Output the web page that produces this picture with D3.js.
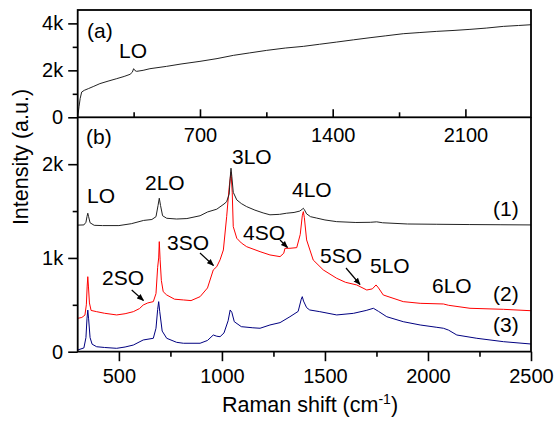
<!DOCTYPE html>
<html>
<head>
<meta charset="utf-8">
<script src="https://cdn.jsdelivr.net/npm/d3@7"></script>
<style>
  html, body { margin: 0; padding: 0; background: #fff; }
  svg { display: block; font-family: Arial, "Liberation Sans", sans-serif; }
</style>
</head>
<body>
<svg id="chart" width="558" height="424"></svg>
<script>
// ---------------- DATA ----------------
// Panel (a): raw spectrum on a broad background
const shiftA = [55,62,68,76,90,111,140,172,215,261,300,331,343,350,357,366,400,436,524,600,700,790,876,960,1052,1150,1245,1330,1421,1510,1597,1680,1772,1860,1949,2040,2124,2210,2300,2380,2446];
const intenA = [0,450,800,1077,1150,1220,1320,1434,1540,1646,1740,1830,1920,2070,1990,1957,2000,2070,2170,2270,2383,2500,2638,2740,2851,2950,3021,3110,3205,3300,3390,3470,3560,3610,3660,3700,3745,3800,3872,3910,3943];

// Panel (b): spectrum (1) black
const shift1 = [300,330,340,345,349,353,360,380,420,500,560,620,660,680,690,696,702,712,732,780,830,894,930,975,1010,1023,1035,1040,1044,1048,1055,1072,1094,1120,1160,1200,1233,1280,1314,1350,1378,1390,1395,1400,1411,1430,1460,1500,1557,1650,1720,1751,1780,1900,2043,2200,2350,2500];
const inten1 = [1350,1352,1380,1440,1477,1440,1375,1348,1345,1345,1365,1400,1410,1440,1560,1637,1560,1450,1423,1415,1420,1450,1490,1520,1575,1600,1680,1850,1957,1870,1700,1619,1580,1547,1510,1480,1460,1465,1477,1485,1500,1520,1530,1515,1470,1440,1425,1405,1387,1378,1380,1385,1375,1362,1359,1356,1354,1352];

// spectrum (2) red
const shift2 = [300,320,335,342,346,349,352,357,365,392,430,489,530,570,600,618,640,667,680,688,693,696,700,706,715,732,770,813,850,894,930,958,975,991,1007,1023,1035,1044,1050,1055,1072,1094,1120,1185,1233,1282,1300,1306,1330,1363,1380,1390,1395,1400,1411,1443,1492,1557,1600,1654,1703,1730,1748,1760,1783,1880,1962,2075,2100,2204,2366,2500];
const inten2 = [356,365,390,500,700,800,700,520,440,427,410,392,405,427,460,498,520,534,620,900,1000,1174,980,760,640,605,560,552,545,587,680,872,907,980,1085,1440,1750,1917,1700,1334,1210,1160,1120,1067,1032,1014,1050,1103,1103,1110,1250,1450,1494,1430,1192,978,872,783,740,712,658,670,712,680,605,534,516,509,495,463,452,437];

// spectrum (3) blue
const shift3 = [300,330,340,345,349,353,360,370,392,430,489,530,570,618,667,680,688,693,698,710,732,780,813,894,930,958,975,991,1010,1030,1040,1048,1060,1094,1150,1185,1233,1282,1330,1370,1385,1390,1396,1411,1426,1475,1557,1638,1700,1735,1760,1800,1880,1962,2043,2075,2100,2140,2237,2366,2500];
const inten3 = [18,40,150,350,444,350,150,80,53,45,36,50,71,125,143,250,450,534,430,220,143,100,90,90,120,178,165,160,200,330,445,420,320,267,255,250,285,310,373,430,560,587,540,470,445,427,392,409,440,463,430,373,320,285,260,250,230,178,143,107,82];

// Ticks
const topXMajor = [700, 1400, 2100];
const topXMinor = [350, 1050, 1750];
const topYMajor = [0, 2000, 4000];
const topYMinor = [1000, 3000];
const botXMajor = [500, 1000, 1500, 2000, 2500];
const botXMinor = [750, 1250, 1750, 2250];
const botYMajor = [0, 1000, 2000];
const botYMinor = [500, 1500];
const kLabel = v => v === 0 ? "0" : (v / 1000) + "k";

// Annotations
const peakLabels = [
  {t: "(a)", x: 87, y: 38}, {t: "LO", x: 119, y: 58},
  {t: "(b)", x: 86, y: 144},
  {t: "LO", x: 87, y: 203}, {t: "2LO", x: 145, y: 190}, {t: "3LO", x: 232, y: 164},
  {t: "4LO", x: 292, y: 197}, {t: "3SO", x: 167, y: 250}, {t: "4SO", x: 243, y: 240},
  {t: "2SO", x: 102, y: 285}, {t: "5SO", x: 320, y: 263}, {t: "5LO", x: 370, y: 273},
  {t: "6LO", x: 432, y: 293},
  {t: "(1)", x: 493, y: 216}, {t: "(2)", x: 493, y: 301}, {t: "(3)", x: 493, y: 332}
];
const arrows = [
  [131.7, 290, 143.5, 300.5],
  [200, 253, 213.5, 265.5],
  [280, 240, 287.5, 247.5],
  [346, 268, 360, 284.5]
];

// ---------------- LAYOUT ----------------
const L = 77.7, R = 531, T = 10, MID = 117.3, B = 351.7;
const svg = d3.select("#chart");
svg.append("rect").attr("width", 558).attr("height", 424).attr("fill", "#fff");

const xA = d3.scaleLinear().domain([55, 2446]).range([L, R]);
const yA = d3.scaleLinear().domain([0, 4570]).range([MID, T]);
const xB = d3.scaleLinear().domain([300, 2500]).range([L, R]);
const yB = d3.scaleLinear().domain([0, 2500]).range([B, MID]);

svg.append("defs").append("marker")
  .attr("id", "ah").attr("viewBox", "0 0 10 10").attr("refX", 9).attr("refY", 5)
  .attr("markerWidth", 6).attr("markerHeight", 6).attr("orient", "auto")
  .append("path").attr("d", "M0,1 L10,5 L0,9 Z").attr("fill", "#000");

svg.append("clipPath").attr("id", "clipA").append("rect")
  .attr("x", L).attr("y", T).attr("width", R - L).attr("height", MID - T);
svg.append("clipPath").attr("id", "clipB").append("rect")
  .attr("x", L).attr("y", MID).attr("width", R - L).attr("height", B - MID);

// ---------------- LINES ----------------
function drawLine(shift, inten, xs, ys, color, clip, w) {
  const pts = shift.map((s, i) => [s, inten[i]]);
  svg.append("path").datum(pts)
    .attr("clip-path", "url(#" + clip + ")")
    .attr("fill", "none").attr("stroke", color).attr("stroke-width", w)
    .attr("stroke-linejoin", "round")
    .attr("d", d3.line().x(d => xs(d[0])).y(d => ys(d[1])));
}
drawLine(shiftA, intenA, xA, yA, "#222", "clipA", 1);
drawLine(shift3, inten3, xB, yB, "#000080", "clipB", 1);
drawLine(shift2, inten2, xB, yB, "#ff0000", "clipB", 1);
drawLine(shift1, inten1, xB, yB, "#222", "clipB", 1);

// ---------------- AXES ----------------
function styleAxis(g, fs) {
  g.select(".domain").remove();
  g.selectAll("line").attr("stroke", "#000").attr("stroke-width", 1.6);
  g.selectAll("text").attr("font-size", fs).attr("fill", "#000")
    .attr("font-family", 'Arial, "Liberation Sans", sans-serif');
}
// Top panel y
svg.append("g").attr("transform", `translate(${L},0)`)
  .call(d3.axisLeft(yA).tickValues(topYMajor).tickFormat(kLabel).tickSize(9.5).tickPadding(5))
  .call(g => styleAxis(g, 20));
svg.append("g").attr("transform", `translate(${L},0)`)
  .call(d3.axisLeft(yA).tickValues(topYMinor).tickFormat("").tickSize(5))
  .call(g => styleAxis(g, 20));
// Top panel x (ticks inward, labels below)
svg.append("g").attr("transform", `translate(0,${MID})`)
  .call(d3.axisBottom(xA).tickValues(topXMajor).tickFormat(d3.format("d")).tickSize(-8).tickPadding(11))
  .call(g => styleAxis(g, 20));
svg.append("g").attr("transform", `translate(0,${MID})`)
  .call(d3.axisBottom(xA).tickValues(topXMinor).tickFormat("").tickSize(-5))
  .call(g => styleAxis(g, 20));
// Bottom panel y
svg.append("g").attr("transform", `translate(${L},0)`)
  .call(d3.axisLeft(yB).tickValues(botYMajor).tickFormat(kLabel).tickSize(9.5).tickPadding(5))
  .call(g => styleAxis(g, 20));
svg.append("g").attr("transform", `translate(${L},0)`)
  .call(d3.axisLeft(yB).tickValues(botYMinor).tickFormat("").tickSize(5))
  .call(g => styleAxis(g, 20));
// Bottom panel x
svg.append("g").attr("transform", `translate(0,${B})`)
  .call(d3.axisBottom(xB).tickValues(botXMajor).tickFormat(d3.format("d")).tickSize(9.5).tickPadding(7.5))
  .call(g => styleAxis(g, 20));
svg.append("g").attr("transform", `translate(0,${B})`)
  .call(d3.axisBottom(xB).tickValues(botXMinor).tickFormat("").tickSize(5))
  .call(g => styleAxis(g, 20));

// Frames
svg.append("rect").attr("x", L).attr("y", T).attr("width", R - L).attr("height", MID - T)
  .attr("fill", "none").attr("stroke", "#000").attr("stroke-width", 1.8);
svg.append("path").attr("d", `M${L},${MID}V${B}H${R}V${MID}`)
  .attr("fill", "none").attr("stroke", "#000").attr("stroke-width", 1.8);

// ---------------- TEXT ----------------
svg.append("g").selectAll("text").data(peakLabels).join("text")
  .attr("x", d => d.x).attr("y", d => d.y)
  .attr("font-size", 21).attr("fill", "#000").text(d => d.t);

svg.append("g").selectAll("line").data(arrows).join("line")
  .attr("x1", d => d[0]).attr("y1", d => d[1]).attr("x2", d => d[2]).attr("y2", d => d[3])
  .attr("stroke", "#000").attr("stroke-width", 1.2).attr("marker-end", "url(#ah)");

// Axis titles
const xt = svg.append("text").attr("x", 310).attr("y", 412).attr("text-anchor", "middle")
  .attr("font-size", 21.5).attr("fill", "#000");
xt.append("tspan").text("Raman shift (cm");
xt.append("tspan").attr("dy", -8).attr("font-size", 14).text("-1");
xt.append("tspan").attr("dy", 8).text(")");

svg.append("text").attr("transform", "translate(28,157) rotate(-90)")
  .attr("text-anchor", "middle").attr("font-size", 21.5).attr("fill", "#000")
  .text("Intensity (a.u.)");
</script>
</body>
</html>
